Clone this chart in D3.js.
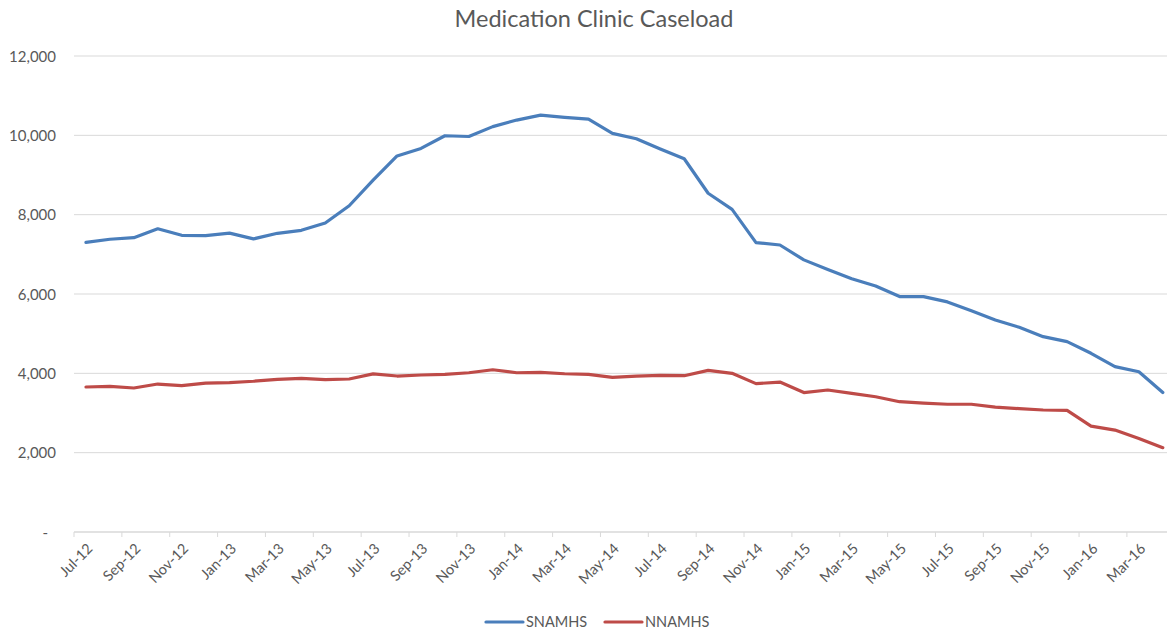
<!DOCTYPE html>
<html>
<head>
<meta charset="utf-8">
<script src="https://cdn.jsdelivr.net/npm/d3@7"></script>
<style>
  html, body { margin: 0; padding: 0; background: #fff; }
  svg { display: block; }
  text { font-family: Lato, "Open Sans", sans-serif; fill: #595959; }
</style>
</head>
<body>
<svg id="chart" width="1167" height="633"></svg>
<script>
const months = ["Jul-12","Aug-12","Sep-12","Oct-12","Nov-12","Dec-12","Jan-13","Feb-13","Mar-13","Apr-13","May-13","Jun-13",
  "Jul-13","Aug-13","Sep-13","Oct-13","Nov-13","Dec-13","Jan-14","Feb-14","Mar-14","Apr-14","May-14","Jun-14",
  "Jul-14","Aug-14","Sep-14","Oct-14","Nov-14","Dec-14","Jan-15","Feb-15","Mar-15","Apr-15","May-15","Jun-15",
  "Jul-15","Aug-15","Sep-15","Oct-15","Nov-15","Dec-15","Jan-16","Feb-16","Mar-16","Apr-16"];
const snamhs = [7300,7380,7420,7645,7480,7470,7535,7390,7530,7605,7790,8225,
  8870,9480,9670,9990,9970,10220,10385,10510,10455,10410,10050,9915,
  9655,9410,8540,8135,7295,7235,6860,6620,6385,6200,5935,5935,
  5800,5580,5345,5160,4925,4800,4505,4170,4040,3515];
const nnamhs = [3655,3672,3630,3730,3690,3755,3765,3800,3850,3875,3840,3857,
  3985,3932,3958,3975,4015,4090,4015,4025,3990,3975,3900,3932,
  3950,3940,4075,4000,3740,3780,3515,3580,3495,3410,3285,3250,
  3220,3220,3150,3110,3075,3065,2670,2570,2360,2125];
const yTicks = [0, 2000, 4000, 6000, 8000, 10000, 12000];
const seriesNames = ["SNAMHS", "NNAMHS"];
const seriesColors = ["#4a7ebb", "#be4b48"];

const svg = d3.select("#chart");
const mLeft = 74, mTop = 56, mBottom = 532;
const bandW = 23.93;
const mRight = mLeft + bandW * months.length;

const x = d3.scaleBand().domain(months).range([mLeft, mRight]).paddingInner(0).paddingOuter(0);
const y = d3.scaleLinear().domain([0, 12000]).range([mBottom, mTop]);

// Title
svg.append("text").attr("x", 594).attr("y", 27).attr("text-anchor", "middle")
  .style("font-size", "23.5px").text("Medication Clinic Caseload");

// Gridlines
svg.append("g").selectAll("line").data(yTicks.filter(d => d > 0)).join("line")
  .attr("x1", mLeft).attr("x2", 1167).attr("y1", d => y(d)).attr("y2", d => y(d))
  .attr("stroke", "#d9d9d9").attr("stroke-width", 1);

// Y axis labels
const yAxis = d3.axisLeft(y).tickValues(yTicks).tickSize(0).tickPadding(0)
  .tickFormat(d => d === 0 ? "-" : d3.format(",")(d));
const gy = svg.append("g").attr("transform", `translate(${mLeft - 18},0)`).call(yAxis);
gy.select(".domain").remove();
gy.selectAll("text").style("font-size", "15px").style("font-family", "Lato, 'Open Sans', sans-serif")
  .attr("fill", "#595959").attr("dy", "0.35em");
gy.selectAll(".tick").filter(d => d === 0).select("text").attr("x", -8);

// X axis
svg.append("line").attr("x1", mLeft).attr("x2", 1167).attr("y1", mBottom).attr("y2", mBottom)
  .attr("stroke", "#d9d9d9").attr("stroke-width", 1.3);
const tickMonths = months.filter((m, i) => i % 2 === 0);
svg.append("g").selectAll("line").data(tickMonths).join("line")
  .attr("x1", d => x(d)).attr("x2", d => x(d)).attr("y1", mBottom).attr("y2", mBottom + 5)
  .attr("stroke", "#d9d9d9").attr("stroke-width", 1);
svg.append("g").selectAll("text").data(tickMonths).join("text")
  .attr("transform", d => `translate(${x(d) + x.bandwidth() / 2 + 4},${mBottom + 14}) rotate(-45)`)
  .attr("text-anchor", "end").attr("dy", "0.35em")
  .style("font-size", "14.5px").text(d => d);

// Lines
const line = d3.line().x((d, i) => x(months[i]) + x.bandwidth() / 2).y(d => y(d));
[snamhs, nnamhs].forEach((s, k) => {
  svg.append("path").datum(s).attr("d", line).attr("fill", "none")
    .attr("stroke", seriesColors[k]).attr("stroke-width", 3.2)
    .attr("stroke-linejoin", "round").attr("stroke-linecap", "round");
});

// Legend
const legendX = [486, 605];
seriesNames.forEach((n, k) => {
  svg.append("line").attr("x1", legendX[k]).attr("x2", legendX[k] + 37).attr("y1", 622).attr("y2", 622)
    .attr("stroke", seriesColors[k]).attr("stroke-width", 3.2).attr("stroke-linecap", "round");
  svg.append("text").attr("x", legendX[k] + 40).attr("y", 622).attr("dy", "0.35em")
    .style("font-size", "14.5px").text(n);
});
</script>
</body>
</html>
